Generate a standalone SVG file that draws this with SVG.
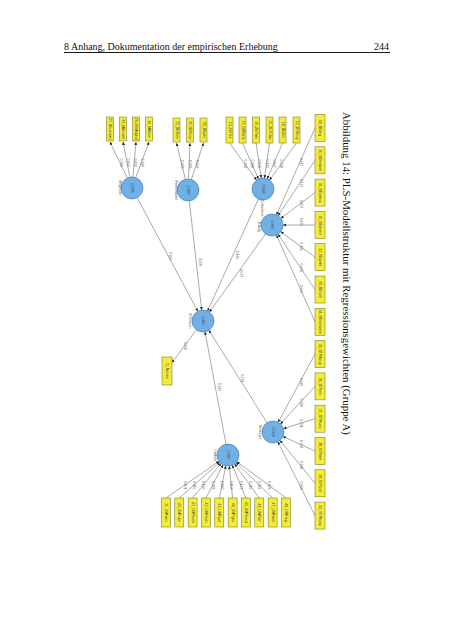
<svg xmlns="http://www.w3.org/2000/svg" width="453" height="640" viewBox="0 0 453 640">
<defs>
<marker id="a" viewBox="0 0 6 6" refX="6" refY="3" markerWidth="3" markerHeight="3" orient="auto" markerUnits="userSpaceOnUse"><path d="M0,0 L6,3 L0,6 z" fill="#222"/></marker>
<style>
.box{fill:#f2ec3b;stroke:#7a7418;stroke-width:0.55}
.lv{fill:#6fb0e6;stroke:#3d72a8;stroke-width:0.6}
.e line{stroke:#555;stroke-width:0.5;marker-end:url(#a)}
text{font-family:"Liberation Sans",Arial,sans-serif}
.t{font-size:3.5px;fill:#333;text-anchor:middle;dominant-baseline:central}
.n{font-size:3.6px;fill:#444;text-anchor:middle;dominant-baseline:central}
.l{font-size:3.4px;fill:#666;text-anchor:middle;dominant-baseline:central}
.hd{font-family:"Liberation Serif","Times New Roman",serif;font-size:10px;fill:#111}
.cap{font-family:"Liberation Serif","Times New Roman",serif;font-size:11px;fill:#111}
</style>
</defs>
<rect width="453" height="640" fill="#fff"/>
<g id="header">
<text class="hd" x="64" y="50">8 Anhang, Dokumentation der empirischen Erhebung</text>
<text class="hd" x="389" y="50" text-anchor="end">244</text>
<line x1="64" y1="52.5" x2="390" y2="52.5" stroke="#000" stroke-width="0.9"/>
</g>
<text class="cap" transform="translate(343,112) rotate(90)" textLength="323" lengthAdjust="spacingAndGlyphs">Abbildung 14: PLS-Modellstruktur mit Regressionsgewichten (Gruppe A)</text>

<g id="connectors" class="e">
<line x1="127.3" y1="178" x2="110" y2="142"/>
<line x1="129.9" y1="177.2" x2="123" y2="142"/>
<line x1="132.9" y1="177" x2="136" y2="142"/>
<line x1="135.7" y1="177.7" x2="149" y2="142"/>
<line x1="185.4" y1="179.3" x2="176.5" y2="143"/>
<line x1="188.5" y1="179" x2="190" y2="143"/>
<line x1="191.4" y1="179.5" x2="203.5" y2="143"/>
<line x1="229.5" y1="143" x2="256.5" y2="180.1"/>
<line x1="242.5" y1="143" x2="258.5" y2="179"/>
<line x1="256" y1="143" x2="261.3" y2="178.1"/>
<line x1="269.5" y1="143" x2="264.5" y2="178.1"/>
<line x1="282.5" y1="143" x2="267.3" y2="178.9"/>
<line x1="296.5" y1="143" x2="269.5" y2="180.1"/>
<line x1="315" y1="128" x2="276.5" y2="214.9"/>
<line x1="315" y1="160.3" x2="278.1" y2="215.8"/>
<line x1="315" y1="192.6" x2="280.8" y2="218.4"/>
<line x1="315" y1="225" x2="283" y2="225"/>
<line x1="315" y1="257.2" x2="280.8" y2="231.6"/>
<line x1="315" y1="289.5" x2="278.1" y2="234.2"/>
<line x1="315" y1="321.8" x2="276.5" y2="235.1"/>
<line x1="315" y1="354.1" x2="278.2" y2="422.3"/>
<line x1="315" y1="386.4" x2="280.4" y2="423.9"/>
<line x1="315" y1="418.7" x2="283.5" y2="428.7"/>
<line x1="315" y1="451" x2="283" y2="436.5"/>
<line x1="315" y1="483.3" x2="280" y2="440.5"/>
<line x1="315" y1="515.6" x2="277.9" y2="441.8"/>
<line x1="166" y1="498" x2="219" y2="461.3"/>
<line x1="179.3" y1="498" x2="219.8" y2="462.3"/>
<line x1="192.6" y1="498" x2="221" y2="463.5"/>
<line x1="206" y1="498" x2="223" y2="464.8"/>
<line x1="219.3" y1="498" x2="225.8" y2="465.8"/>
<line x1="232.6" y1="498" x2="229.2" y2="465.9"/>
<line x1="246" y1="498" x2="232.2" y2="465.1"/>
<line x1="259.3" y1="498" x2="234.5" y2="463.9"/>
<line x1="272.6" y1="498" x2="235.9" y2="462.6"/>
<line x1="286" y1="498" x2="236.8" y2="461.6"/>
<line x1="137.2" y1="197.7" x2="197.8" y2="311.3"/>
<line x1="189.3" y1="200.9" x2="201.7" y2="310.1"/>
<line x1="258.4" y1="199" x2="207.6" y2="311"/>
<line x1="265.6" y1="233.9" x2="209.4" y2="312.1"/>
<line x1="267.1" y1="422.7" x2="208.9" y2="330.3"/>
<line x1="226" y1="444.2" x2="205" y2="331.8"/>
<line x1="196.4" y1="329.8" x2="172" y2="362.6"/>
</g>

<g id="edge-labels">
<text class="l" transform="translate(120.5,162.7) rotate(90)">0.796</text>
<text class="l" transform="translate(127.6,162.7) rotate(90)">0.865</text>
<text class="l" transform="translate(134.8,162.7) rotate(90)">0.832</text>
<text class="l" transform="translate(142,162.7) rotate(90)">0.789</text>
<text class="l" transform="translate(182.2,164.2) rotate(90)">1.020</text>
<text class="l" transform="translate(189.6,164.2) rotate(90)">0.936</text>
<text class="l" transform="translate(197,164.2) rotate(90)">0.843</text>
<text class="l" transform="translate(244.6,163.7) rotate(90)">0.248</text>
<text class="l" transform="translate(251.7,163.7) rotate(90)">0.198</text>
<text class="l" transform="translate(259.2,163.7) rotate(90)">0.052</text>
<text class="l" transform="translate(266.6,163.7) rotate(90)">0.322</text>
<text class="l" transform="translate(273.7,163.7) rotate(90)">0.027</text>
<text class="l" transform="translate(281.4,163.7) rotate(90)">0.238</text>
<text class="l" transform="translate(301,162) rotate(90)">0.417</text>
<text class="l" transform="translate(301,183) rotate(90)">0.473</text>
<text class="l" transform="translate(301,204) rotate(90)">0.407</text>
<text class="l" transform="translate(301,222) rotate(90)">0.425</text>
<text class="l" transform="translate(301,246.6) rotate(90)">0.384</text>
<text class="l" transform="translate(301,267.7) rotate(90)">0.461</text>
<text class="l" transform="translate(301,289) rotate(90)">0.666</text>
<text class="l" transform="translate(301,381.9) rotate(90)">0.640</text>
<text class="l" transform="translate(301,402.7) rotate(90)">0.688</text>
<text class="l" transform="translate(301,423.4) rotate(90)">0.731</text>
<text class="l" transform="translate(301,444.2) rotate(90)">0.632</text>
<text class="l" transform="translate(301,465) rotate(90)">0.788</text>
<text class="l" transform="translate(301,485.8) rotate(90)">0.860</text>
<text class="l" transform="translate(184.6,485.1) rotate(90)">0.101</text>
<text class="l" transform="translate(193.9,485.1) rotate(90)">0.085</text>
<text class="l" transform="translate(203.2,485.1) rotate(90)">0.160</text>
<text class="l" transform="translate(212.6,485.1) rotate(90)">0.288</text>
<text class="l" transform="translate(221.9,485.1) rotate(90)">0.180</text>
<text class="l" transform="translate(231.2,485.1) rotate(90)">0.102</text>
<text class="l" transform="translate(240.6,485.1) rotate(90)">0.122</text>
<text class="l" transform="translate(249.9,485.1) rotate(90)">0.215</text>
<text class="l" transform="translate(259.2,485.1) rotate(90)">0.084</text>
<text class="l" transform="translate(268.6,485.1) rotate(90)">0.009</text>
<text class="l" transform="translate(170,256) rotate(90)">0.386</text>
<text class="l" transform="translate(199.5,262) rotate(90)">0.009</text>
<text class="l" transform="translate(236.5,255) rotate(90)">0.186</text>
<text class="l" transform="translate(241,273) rotate(90)">0.077</text>
<text class="l" transform="translate(242,378) rotate(90)">0.231</text>
<text class="l" transform="translate(218.5,387) rotate(90)">0.286</text>
<text class="l" transform="translate(185,346) rotate(90)">0.860</text>
</g>

<g id="lv-mitglied"><circle class="lv" cx="132" cy="188" r="11"/><text class="n" transform="translate(132,188) rotate(90)">0.388</text><text class="n" transform="translate(119.5,188) rotate(90)">Mitglieder</text></g>
<g id="lv-partner"><circle class="lv" cx="188" cy="190" r="11"/><text class="n" transform="translate(188,190) rotate(90)">0.388</text><text class="n" transform="translate(175.5,190) rotate(90)">Partnerwahl</text></g>
<g id="lv-zeit"><circle class="lv" cx="263" cy="189" r="11"/><text class="n" transform="translate(263,189) rotate(90)">0.888</text><text class="n" transform="translate(262,208) rotate(90)">Zeitlichkeit</text></g>
<g id="lv-erfolg"><circle class="lv" cx="272" cy="225" r="11"/><text class="n" transform="translate(272,225) rotate(90)">0.881</text><text class="n" transform="translate(258.5,227) rotate(90)">Erfolg</text></g>
<g id="lv-nutzen"><circle class="lv" cx="203" cy="321" r="11"/><text class="n" transform="translate(203,321) rotate(90)">0.445</text><text class="n" transform="translate(189.5,321) rotate(90)">D Nutzen</text></g>
<g id="lv-strategie"><circle class="lv" cx="273" cy="432" r="11"/><text class="n" transform="translate(273,432) rotate(90)">0.009</text><text class="n" transform="translate(259.5,432) rotate(90)">Strategie</text></g>
<g id="lv-umfeld"><circle class="lv" cx="228" cy="455" r="11"/><text class="n" transform="translate(228,455) rotate(90)">0.881</text><text class="n" transform="translate(215,455) rotate(90)">Umfeld</text></g>

<g id="mv-mitglied">
<rect class="box" x="106.5" y="117" width="7" height="24"/><text class="t" transform="translate(110,129) rotate(90)">27_BEumsatz</text>
<rect class="box" x="119.5" y="117" width="7" height="24"/><text class="t" transform="translate(123,129) rotate(90)">26_MAnzahl</text>
<rect class="box" x="132.5" y="117" width="7" height="24"/><text class="t" transform="translate(136,129) rotate(90)">26_BEMitglied</text>
<rect class="box" x="145.5" y="117" width="7" height="24"/><text class="t" transform="translate(149,129) rotate(90)">24_MAkom</text>
</g>
<g id="mv-partner">
<rect class="box" x="173" y="118" width="7" height="24"/><text class="t" transform="translate(176.5,130) rotate(90)">21_BEKom</text>
<rect class="box" x="186.5" y="118" width="7" height="24"/><text class="t" transform="translate(190,130) rotate(90)">22_BEKoop</text>
<rect class="box" x="200" y="118" width="7" height="24"/><text class="t" transform="translate(203.5,130) rotate(90)">26_BEjahr</text>
</g>
<g id="mv-zeit">
<rect class="box" x="226" y="117" width="7" height="26"/><text class="t" transform="translate(229.5,130) rotate(90)">14_ZEITeil</text>
<rect class="box" x="239" y="117" width="7" height="26"/><text class="t" transform="translate(242.5,130) rotate(90)">17_GBKarte</text>
<rect class="box" x="252.5" y="117" width="7" height="26"/><text class="t" transform="translate(256,130) rotate(90)">16_ZEITakt</text>
<rect class="box" x="266" y="117" width="7" height="26"/><text class="t" transform="translate(269.5,130) rotate(90)">15_ZEITdau</text>
<rect class="box" x="279" y="117" width="7" height="26"/><text class="t" transform="translate(282.5,130) rotate(90)">18_BEZeit</text>
<rect class="box" x="293" y="117" width="7" height="26"/><text class="t" transform="translate(296.5,130) rotate(90)">12_ZEIDrug</text>
</g>
<g id="mv-erfolg">
<rect class="box" x="315" y="114.5" width="10" height="27"/><text class="t" transform="translate(320,128) rotate(90)">30_BEdrig</text>
<rect class="box" x="315" y="146.8" width="10" height="27"/><text class="t" transform="translate(320,160.3) rotate(90)">30_BEmitwirk</text>
<rect class="box" x="315" y="179.1" width="10" height="27"/><text class="t" transform="translate(320,192.6) rotate(90)">31_BEstatus</text>
<rect class="box" x="315" y="211.5" width="10" height="27"/><text class="t" transform="translate(320,225) rotate(90)">31_BEanteil</text>
<rect class="box" x="315" y="243.7" width="10" height="27"/><text class="t" transform="translate(320,257.2) rotate(90)">32_BEwahl</text>
<rect class="box" x="315" y="276" width="10" height="27"/><text class="t" transform="translate(320,289.5) rotate(90)">33_BEfunk</text>
<rect class="box" x="315" y="308.3" width="10" height="27"/><text class="t" transform="translate(320,321.8) rotate(90)">34_BEnetzwerk</text>
</g>
<g id="mv-strategie">
<rect class="box" x="315" y="340.6" width="10" height="27"/><text class="t" transform="translate(320,354.1) rotate(90)">35_STRAzug</text>
<rect class="box" x="315" y="372.9" width="10" height="27"/><text class="t" transform="translate(320,386.4) rotate(90)">36_STRein</text>
<rect class="box" x="315" y="405.2" width="10" height="27"/><text class="t" transform="translate(320,418.7) rotate(90)">37_STRkonz</text>
<rect class="box" x="315" y="437.5" width="10" height="27"/><text class="t" transform="translate(320,451) rotate(90)">38_STRanf</text>
<rect class="box" x="315" y="469.8" width="10" height="27"/><text class="t" transform="translate(320,483.3) rotate(90)">39_STRziel</text>
<rect class="box" x="315" y="502.1" width="10" height="27"/><text class="t" transform="translate(320,515.6) rotate(90)">41_STRkoop</text>
</g>
<g id="mv-umfeld">
<rect class="box" x="161.5" y="498" width="9" height="29"/><text class="t" transform="translate(166,512.5) rotate(90)">11_UMFanz</text>
<rect class="box" x="174.8" y="498" width="9" height="29"/><text class="t" transform="translate(179.3,512.5) rotate(90)">41_UMFdyn</text>
<rect class="box" x="188.1" y="498" width="9" height="29"/><text class="t" transform="translate(192.6,512.5) rotate(90)">41_UMFkonk</text>
<rect class="box" x="201.5" y="498" width="9" height="29"/><text class="t" transform="translate(206,512.5) rotate(90)">42_UMFtech</text>
<rect class="box" x="214.8" y="498" width="9" height="29"/><text class="t" transform="translate(219.3,512.5) rotate(90)">43_UMFpol</text>
<rect class="box" x="228.1" y="498" width="9" height="29"/><text class="t" transform="translate(232.6,512.5) rotate(90)">44_UMFges</text>
<rect class="box" x="241.5" y="498" width="9" height="29"/><text class="t" transform="translate(246,512.5) rotate(90)">45_UMFkund</text>
<rect class="box" x="254.8" y="498" width="9" height="29"/><text class="t" transform="translate(259.3,512.5) rotate(90)">46_UMFlief</text>
<rect class="box" x="268.1" y="498" width="9" height="29"/><text class="t" transform="translate(272.6,512.5) rotate(90)">47_UMFwett</text>
<rect class="box" x="281.5" y="498" width="9" height="29"/><text class="t" transform="translate(286,512.5) rotate(90)">48_UMFreg</text>
</g>
<g id="mv-nutzen"><rect class="box" x="162" y="357" width="10" height="28"/><text class="t" transform="translate(167,371) rotate(90)">D_Nutzen</text></g>
</svg>
